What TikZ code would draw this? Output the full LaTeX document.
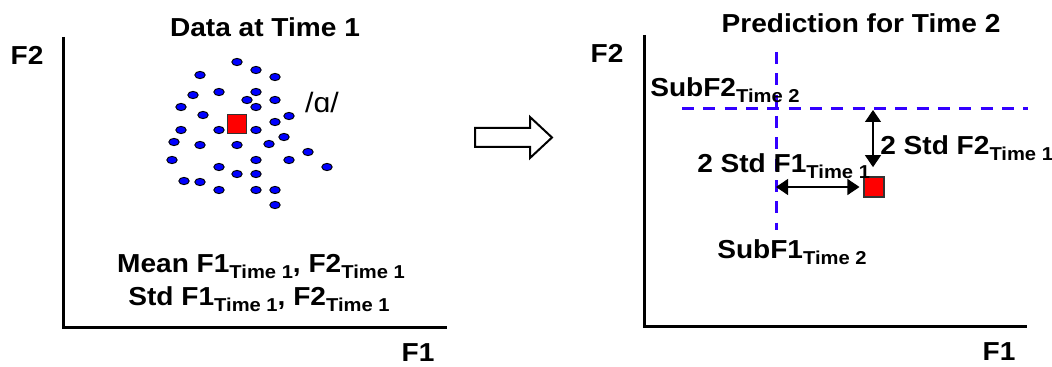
\documentclass[tikz,border=0pt]{standalone}
\usepackage{fontspec}
\setmainfont{Liberation Sans}[FakeStretch=1.08]
\usetikzlibrary{arrows.meta}
\definecolor{dotBlue}{HTML}{0000FF}
\definecolor{subBlue}{HTML}{3300FF}
\definecolor{meanRed}{HTML}{FF0000}
\newcommand{\tsub}[1]{\raisebox{-4.5pt}{\fontsize{14}{14}\selectfont #1}}

\begin{document}
\begin{tikzpicture}[x=0.75pt,y=-0.75pt,>={Triangle[length=9pt,width=12pt]}]
\tikzstyle{lbl}=[inner sep=0pt,font=\bfseries\fontsize{19.5}{22}\selectfont]
\tikzstyle{axis}=[line width=2.25pt]
\tikzstyle{dot}=[fill=dotBlue,draw=black,line width=0.7pt]
\tikzstyle{meanbox}=[draw=black!80,fill=meanRed,line width=0.8pt,minimum size=14.5pt,inner sep=0pt]
\tikzstyle{subline}=[draw=subBlue,line width=2.25pt,dash pattern=on 9pt off 7pt]
\tikzstyle{stdarrow}=[<->,line width=0.8pt]
\useasboundingbox (0,0) rectangle (1052,367);
% time 1
\draw[axis] (63,37) -- (63,327) -- (447,327);
\node[lbl] (title1) at (265,27) {Data at Time 1};
\node[lbl] (f2a) at (27,55) {F2};
\node[lbl] (f1a) at (418,353) {F1};
\foreach \p in {(237,62),(256,70),(275,77),(200,75),(193,95),(219,92),(256,92),(247,100),(275,100),(256,107),
  (181,107),(203,115),(289,116),(275,122),(181,130),(219,130),(256,130),(284,137),(174,142),(200,145),
  (237,145),(269,144),(308,152),(172,160),(256,160),(289,160),(327,167),(219,167),(237,174),(256,174),
  (184,181),(200,182),(219,190),(256,190),(275,190),(275,205)}
  \filldraw[dot] \p ellipse (3.9pt and 2.7pt);
\node[meanbox] (mean) at (237,124) {};
\node[inner sep=0pt,font=\fontsize{21}{22}\selectfont] (vowel) at (322,102) {/ɑ/};
\node[lbl,anchor=base] (meanf) at (261,272) {Mean F1\tsub{Time 1}, F2\tsub{Time 1}};
\node[lbl,anchor=base] (stdf) at (259,305) {Std F1\tsub{Time 1}, F2\tsub{Time 1}};
% step
\draw[line width=1.5pt,fill=white] (475,128) -- (530,128) -- (530,117) -- (552,137.5) -- (530,158) -- (530,147) -- (475,147) -- cycle;
% time 2
\draw[axis] (644,35) -- (644,326) -- (1027,326);
\node[lbl] (title2) at (861,23) {Prediction for Time 2};
\node[lbl] (f2b) at (607,53) {F2};
\node[lbl] (f1b) at (999,352) {F1};
\draw[subline] (776,52) -- (776,230);
\draw[subline] (682,109) -- (1028,109);
\node[lbl,anchor=base west] (subf2) at (650,97) {SubF2\tsub{Time 2}};
\node[lbl,anchor=base west] (subf1) at (717,258) {SubF1\tsub{Time 2}};
\node[meanbox,minimum size=15pt] (pred) at (874,187) {};
\coordinate (f2lim) at (873,110);
\coordinate (f1lim) at (776,187);
\draw[stdarrow] (f2lim) -- ([yshift=7pt]pred.north -| f2lim);
\draw[stdarrow] (f1lim) -- ([xshift=-3pt]pred.west);
\node[lbl,anchor=base west] (std1) at (697,172) {2 Std F1\tsub{Time 1}};
\node[lbl,anchor=base west] (std2) at (880,155) {2 Std F2\tsub{Time 1}};
\end{tikzpicture}
\end{document}
